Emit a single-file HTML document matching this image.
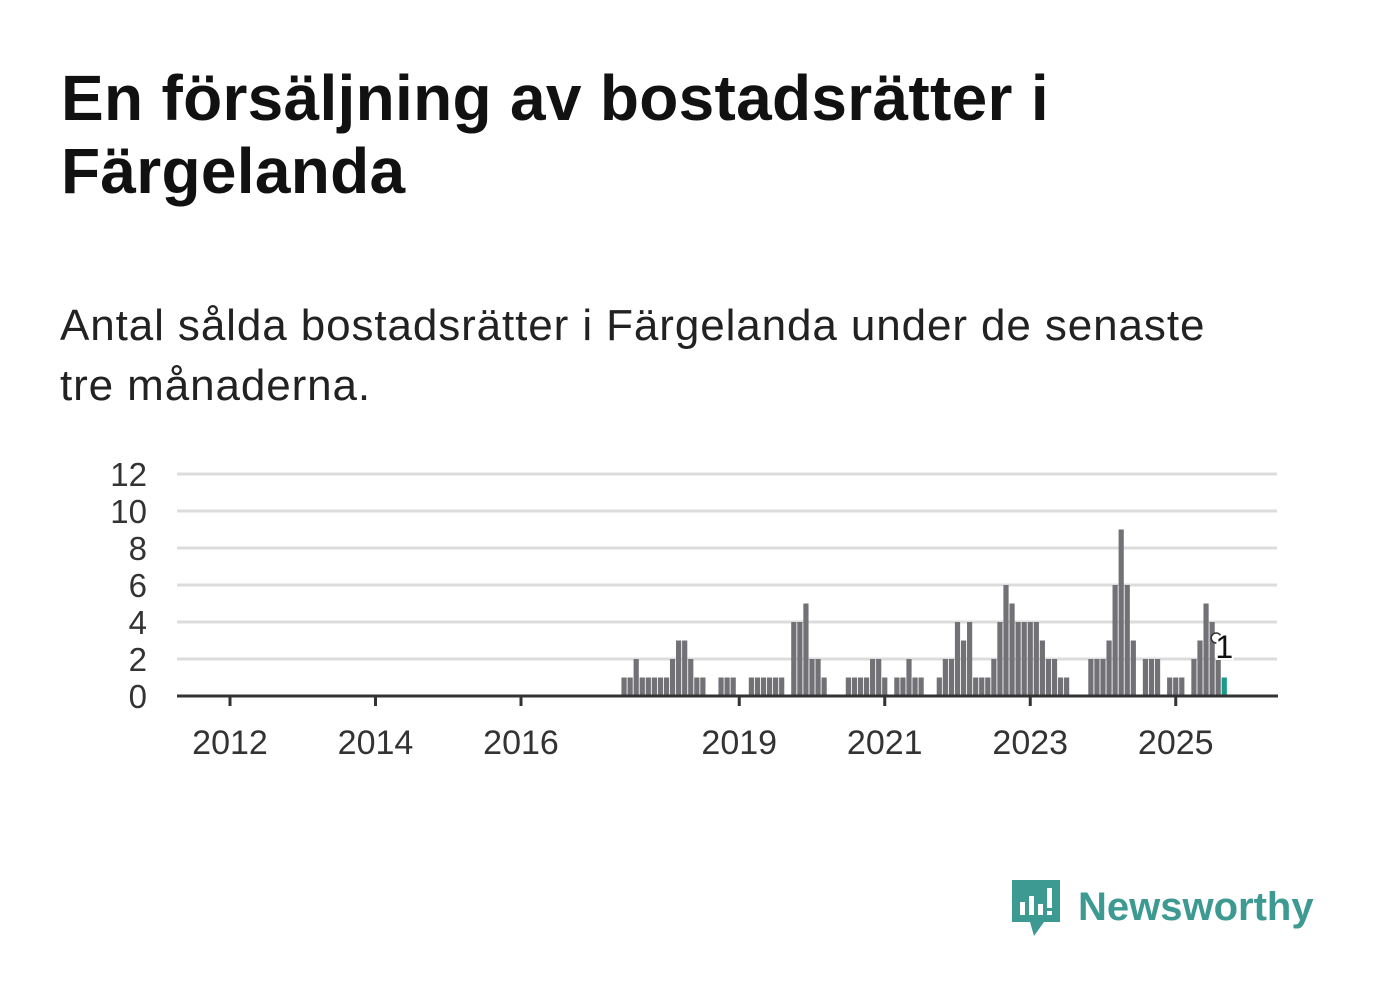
<!DOCTYPE html>
<html><head><meta charset="utf-8">
<style>
body{margin:0;width:1382px;height:999px;background:#fff;font-family:"Liberation Sans","DejaVu Sans",sans-serif;color:#111;overflow:hidden;position:relative}
h1{position:absolute;left:61px;top:62px;margin:0;font-size:64px;line-height:73px;font-weight:bold;width:1300px;letter-spacing:0.3px}
.sub{position:absolute;left:60px;top:296px;margin:0;font-size:44px;line-height:60px;color:#222;width:1300px;letter-spacing:0.9px}
svg{position:absolute;left:0;top:0}
</style></head><body>
<h1>En försäljning av bostadsrätter i<br>Färgelanda</h1>
<p class="sub">Antal sålda bostadsrätter i Färgelanda under de senaste<br>tre månaderna.</p>
<svg id="chart" width="1382" height="999"></svg>
<div style="position:absolute;left:1010px;top:876px;display:flex;align-items:center">
<svg width="52" height="62" style="position:static"><path d="M2 4h48v42H34l-10 14-4-14H2z" fill="#3d9a92"/><rect x="10" y="26" width="5" height="13" fill="#fff"/><rect x="19" y="20" width="5" height="19" fill="#fff"/><rect x="28" y="28" width="5" height="11" fill="#fff"/><rect x="37" y="12" width="5" height="20" fill="#fff"/><rect x="37" y="35" width="5" height="4" fill="#fff"/></svg>
<span style="font-size:40px;font-weight:bold;color:#3d9a92;margin-left:16px">Newsworthy</span></div>
<script>
const startMonth = 65; // months after Jan 2012
const values = [1,1,2,1,1,1,1,1,2,3,3,2,1,1,0,0,1,1,1,0,0,1,1,1,1,1,1,0,4,4,5,2,2,1,0,0,0,1,1,1,1,2,2,1,0,1,1,2,1,1,0,0,1,2,2,4,3,4,1,1,1,2,4,6,5,4,4,4,4,3,2,2,1,1,0,0,0,2,2,2,3,6,9,6,3,0,2,2,2,0,1,1,1,0,2,3,5,4,2,1];
const yTicks = [0,2,4,6,8,10,12];
const xTickYears = [2012,2014,2016,2019,2021,2023,2025];
const NS="http://www.w3.org/2000/svg", svg=document.getElementById('chart');
const x = m => 230 + m*6.0625;
const y = v => 696 - v*18.5;
function el(t,a){const e=document.createElementNS(NS,t);for(const k in a)e.setAttribute(k,a[k]);svg.appendChild(e);return e;}
yTicks.forEach(v=>{
  const g=el('line',{x1:177,x2:1277,y1:y(v),y2:y(v),stroke:'#dcdcdc','stroke-width':3});
  
  
  const t=el('text',{x:147,y:y(v)+12,'text-anchor':'end','font-size':33,fill:'#333','font-family':'Liberation Sans, sans-serif'});
  t.textContent=v;
  
  
});
values.forEach((v,i)=>{
  if(v<=0)return;
  const m=startMonth+i, last=i===values.length-1;
  const r=el('rect',{x:x(m)-2.6,y:y(v),width:5.2,height:v*18.5,fill:last?'#1a9a8a':'#717176'});
  
  
});
const bl=el('line',{x1:177,x2:1278,y1:696,y2:696,stroke:'#333','stroke-width':3});


xTickYears.forEach(yr=>{
  const xx=x((yr-2012)*12);
  const tk=el('line',{x1:xx,x2:xx,y1:696,y2:706,stroke:'#333','stroke-width':3});
  
  
  const t=el('text',{x:xx,y:754,'text-anchor':'middle','font-size':34,fill:'#333','font-family':'Liberation Sans, sans-serif'});
  t.textContent=yr;
  
  
});
const lm=startMonth+values.length-1, lv=values[values.length-1];
const c=el('circle',{cx:x(lm)-8,cy:638,r:5,fill:'#fff',stroke:'#333','stroke-width':1.5});


const lt=el('text',{x:x(lm),y:658,'text-anchor':'middle','font-size':32,fill:'#111',stroke:'#fff','stroke-width':4,'paint-order':'stroke','font-family':'Liberation Sans, sans-serif'});
lt.textContent=lv;


</script>
</body></html>
